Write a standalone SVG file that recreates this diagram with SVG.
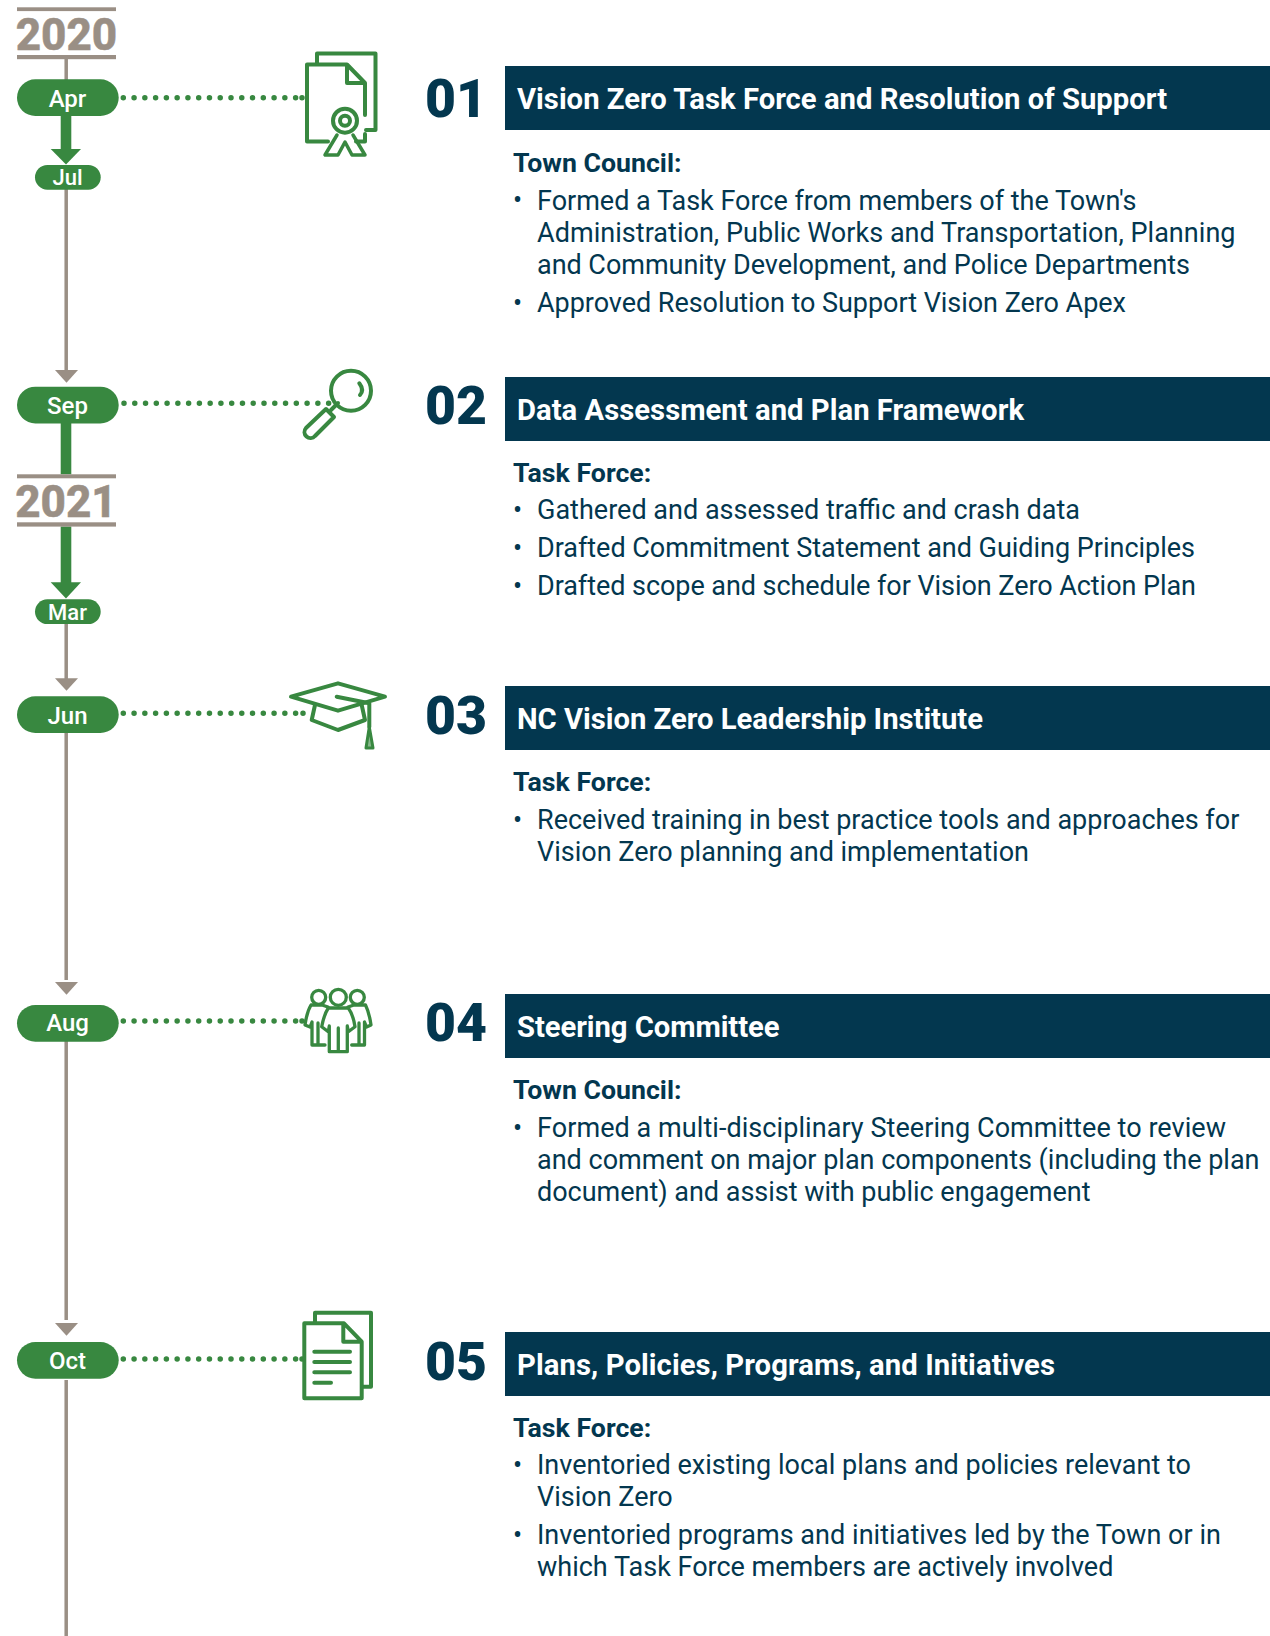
<svg xmlns="http://www.w3.org/2000/svg" width="1270" height="1636" viewBox="0 0 1270 1636">
<style>
text{font-family:Roboto,"Liberation Sans",sans-serif}
.tl{stroke:#9a8f85;stroke-width:3.500;fill:none}
.yr{fill:#9a8f85;stroke:#9a8f85;stroke-width:.5px;font-size:44px;font-weight:800}
.yb{fill:#9a8f85}
.gb{fill:#388840}
.gar{fill:#388840}
.ga{fill:#9a8f85}
.m{fill:#fff;font-size:24px;font-weight:500;text-anchor:middle}
.ms{fill:#fff;font-size:22px;font-weight:500;text-anchor:middle}
.dot{stroke:#388840;stroke-width:5.500;stroke-linecap:round;stroke-dasharray:0 10.770;fill:none}
.ic{stroke:#388840;stroke-width:4;fill:none;stroke-linejoin:round;stroke-linecap:round}
.num{fill:#03374f;font-size:53.500px;font-weight:900}
.hb{fill:#03374f}
.ht{fill:#fff;font-size:29.250px;font-weight:700}
.sh{fill:#03374f;font-size:26.700px;font-weight:700}
.b{fill:#03374f;font-size:27px}
</style>
<g id="connectors">
<path class="tl" d="M66.200 55V80M66.200 175V372M66.200 610V685M66.200 730V980M66.200 1040V1320M66.200 1380V1636"/>
<path class="ga" d="M55 370H78L66.500 382.700Z"/>
<path class="ga" d="M55 678.300H78L66.500 690.700Z"/>
<path class="ga" d="M55 982H78L66.500 994.700Z"/>
<path class="ga" d="M55 1323H78L66.500 1335.700Z"/>
<rect class="gar" x="60.700" y="110" width="10.600" height="40"/>
<path class="gar" d="M50.700 149H81L66 164.500Z"/>
<rect class="gar" x="60.700" y="420" width="10.600" height="54.300"/>
<rect class="gar" x="60.700" y="526.500" width="10.600" height="57"/>
<path class="gar" d="M50.700 582.300H81L66 598.500Z"/>
<path class="dot" d="M123.300 97.700H296.500M302 97.700h.01"/>
<path class="dot" d="M124 403.300H333"/>
<path class="dot" d="M123.300 713.300H296.500M303 713.300h.01"/>
<path class="dot" d="M123.300 1021H296.500M302 1021h.01"/>
<path class="dot" d="M123.300 1359H296.500M302 1359h.01"/>
</g>
<g id="year-2020"><rect class="yb" x="17" y="7.300" width="99" height="3.800"/><rect class="yb" x="17" y="55" width="99" height="4.200"/><text class="yr" x="66.500" y="50" text-anchor="middle">2020</text></g>
<g id="year-2021"><rect class="yb" x="17" y="474.300" width="99" height="4"/><rect class="yb" x="17" y="522.300" width="99" height="4.300"/><text class="yr" x="66" y="517" text-anchor="middle">2021</text></g>
<g id="m-apr"><rect class="gb" x="17" y="79.300" width="101.700" height="36.700" rx="18.350"/><text class="m" x="67.500" y="107">Apr</text></g>
<g id="m-jul"><rect class="gb" x="35" y="165" width="65.700" height="24.700" rx="12.350"/><text class="ms" x="67.500" y="185">Jul</text></g>
<g id="m-sep"><rect class="gb" x="17" y="386.700" width="101.700" height="36.700" rx="18.350"/><text class="m" x="67.500" y="414">Sep</text></g>
<g id="m-mar"><rect class="gb" x="35" y="599.300" width="65.700" height="24.700" rx="12.350"/><text class="ms" x="67.500" y="620">Mar</text></g>
<g id="m-jun"><rect class="gb" x="17" y="696.300" width="101.700" height="36.700" rx="18.350"/><text class="m" x="67.500" y="724">Jun</text></g>
<g id="m-aug"><rect class="gb" x="17" y="1005" width="101.700" height="36.700" rx="18.350"/><text class="m" x="67.500" y="1031">Aug</text></g>
<g id="m-oct"><rect class="gb" x="17" y="1342" width="101.700" height="36.700" rx="18.350"/><text class="m" x="67.500" y="1369">Oct</text></g>
<g id="icon-1" class="ic">
<path d="M317 63V53.500H375.500V130H366"/>
<path d="M328 141.500H307V64.500H347L365 83V115M365 134V141.500H356M347 64.500V83H365"/>
<circle cx="345" cy="120.700" r="12"/><circle cx="345" cy="120.700" r="5"/>
<path stroke-width="3.500" d="M337 135L325 155H338L345 142L352 155H365L353 135"/>
</g>
<g id="icon-2" class="ic">
<circle cx="351" cy="390.700" r="20"/>
<path d="M359.300 383.300Q364.500 390 360 395M338 403L331 410"/>
<path d="M326 409L334 417L315 436A5.500 5.500 0 0 1 306 428Z"/>
</g>
<g id="icon-3" class="ic">
<path d="M291 696.700L338 683.300L385 696.700L338 710.700Z"/>
<path d="M315 705L311.700 720L338 730L365 720L361.700 705"/>
<path d="M336.700 696.700L369.300 703.300V727"/>
<path stroke-width="3" fill="#388840" fill-opacity=".6" d="M369.300 727L366 748H373Z"/>
</g>
<g id="icon-4" class="ic" style="stroke-width:3.300">
<circle cx="318.700" cy="997.300" r="7"/><circle cx="338.300" cy="997.300" r="8"/><circle cx="357.300" cy="997.300" r="7"/>
<path d="M328 1007L322 1005H311C308 1010 306 1018 305 1025L310 1027L312 1022V1045H325M318 1023V1045"/>
<path d="M348 1007L354 1005H365.500C368 1010 370 1018 371 1025L366.500 1027L364.500 1022V1045H351.700M359 1023V1045"/>
<path d="M328.300 1008H348.300C352 1013 354 1020 355 1026.700L348.300 1031.700L347.300 1026V1051.700H329.300V1026L328.300 1031.700L321.700 1026.700C323 1020 325 1013 328.300 1008ZM338.300 1028V1051.700"/>
</g>
<g id="icon-5" class="ic">
<path d="M315 1322V1312.700H371V1386.700H362"/>
<path d="M304.300 1323.300H344L361.700 1341.700V1398.300H304.300ZM343.300 1323.300V1341.700H361.700"/>
<path d="M314.300 1351.700H350M314.300 1362H350M314.300 1372.300H350M314.300 1382.700H331"/>
</g>
<g id="node-01"><text class="num" x="425" y="117">01</text><rect class="hb" x="505" y="66" width="765" height="64"/><text class="ht" x="517" y="109">Vision Zero Task Force and Resolution of Support</text>
<text class="sh" x="513" y="172">Town Council:</text>
<text class="b" x="513" y="209">•</text><text class="b" x="537" y="210" textLength="599.500">Formed a Task Force from members of the Town's</text><text class="b" x="537" y="242" textLength="698.500">Administration, Public Works and Transportation, Planning</text><text class="b" x="537" y="274" textLength="653">and Community Development, and Police Departments</text>
<text class="b" x="513" y="312">•</text><text class="b" x="537" y="312" textLength="589">Approved Resolution to Support Vision Zero Apex</text></g>
<g id="node-02"><text class="num" x="425" y="424">02</text><rect class="hb" x="505" y="377" width="765" height="64"/><text class="ht" x="517" y="420" textLength="507">Data Assessment and Plan Framework</text>
<text class="sh" x="513" y="482">Task Force:</text>
<text class="b" x="513" y="519">•</text><text class="b" x="537" y="519" textLength="543">Gathered and assessed traffic and crash data</text>
<text class="b" x="513" y="557">•</text><text class="b" x="537" y="557" textLength="658">Drafted Commitment Statement and Guiding Principles</text>
<text class="b" x="513" y="595">•</text><text class="b" x="537" y="595" textLength="659">Drafted scope and schedule for Vision Zero Action Plan</text></g>
<g id="node-03"><text class="num" x="425" y="734">03</text><rect class="hb" x="505" y="686" width="765" height="64"/><text class="ht" x="517" y="729" textLength="466">NC Vision Zero Leadership Institute</text>
<text class="sh" x="513" y="791">Task Force:</text>
<text class="b" x="513" y="829">•</text><text class="b" x="537" y="829">Received training in best practice tools and approaches for</text><text class="b" x="537" y="861">Vision Zero planning and implementation</text></g>
<g id="node-04"><text class="num" x="425" y="1041">04</text><rect class="hb" x="505" y="994" width="765" height="64"/><text class="ht" x="517" y="1037" textLength="262.500">Steering Committee</text>
<text class="sh" x="513" y="1099">Town Council:</text>
<text class="b" x="513" y="1137">•</text><text class="b" x="537" y="1137" textLength="689">Formed a multi-disciplinary Steering Committee to review</text><text class="b" x="537" y="1169" textLength="722.500">and comment on major plan components (including the plan</text><text class="b" x="537" y="1201" textLength="553.500">document) and assist with public engagement</text></g>
<g id="node-05"><text class="num" x="425" y="1380">05</text><rect class="hb" x="505" y="1332" width="765" height="64"/><text class="ht" x="517" y="1375" textLength="538">Plans, Policies, Programs, and Initiatives</text>
<text class="sh" x="513" y="1437">Task Force:</text>
<text class="b" x="513" y="1474">•</text><text class="b" x="537" y="1474" textLength="654">Inventoried existing local plans and policies relevant to</text><text class="b" x="537" y="1506">Vision Zero</text>
<text class="b" x="513" y="1544">•</text><text class="b" x="537" y="1544" textLength="684">Inventoried programs and initiatives led by the Town or in</text><text class="b" x="537" y="1576">which Task Force members are actively involved</text></g>
</svg>
